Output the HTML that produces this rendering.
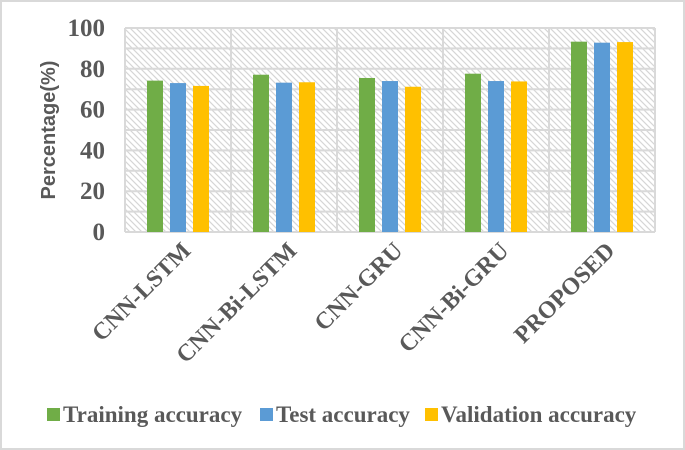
<!DOCTYPE html>
<html><head><meta charset="utf-8"><style>
html,body{margin:0;padding:0;background:#fff}
svg{display:block}
.tick{font-family:"Liberation Serif",serif;font-weight:bold;font-size:25px;fill:#595959}
.xl{font-family:"Liberation Serif",serif;font-weight:bold;font-size:24px;fill:#595959}
.lg{font-family:"Liberation Serif",serif;font-weight:bold;font-size:23px;fill:#595959}
</style></head><body>
<svg id="chart" width="685" height="450" xmlns="http://www.w3.org/2000/svg">
<defs>
<pattern id="hatch" width="6" height="6" patternUnits="userSpaceOnUse">
<rect width="6" height="6" fill="#fff"/>
<path d="M-1,-1 L7,7 M-1,5 L1,7 M5,-1 L7,1" stroke="#d6d6d6" stroke-width="1.2"/>
</pattern>
</defs>
<rect x="1" y="1" width="683" height="448" fill="#fff" stroke="#d9d9d9" stroke-width="2"/>
<g id="plot"></g>
</svg>
<script>
const categories=["CNN-LSTM","CNN-Bi-LSTM","CNN-GRU","CNN-Bi-GRU","PROPOSED"];
const training=[74.2,77.1,75.5,77.6,93.3];
const test=[73.0,73.2,74.0,74.0,92.8];
const validation=[71.6,73.4,71.2,73.8,93.1];
const yTicks=[0,20,40,60,80,100];
const seriesNames=["Training accuracy","Test accuracy","Validation accuracy"];
const colors=["#70ad47","#5b9bd5","#ffc000"];
const NS="http://www.w3.org/2000/svg";
const g=document.getElementById('plot');
const L=125,R=655,T=28,B=232;
const cw=(R-L)/categories.length;
function y(v){return B-(v/100)*(B-T);}
function xc(i){return L+cw*(i+0.5);}
function mk(t,a,p){const e=document.createElementNS(NS,t);for(const k in a)e.setAttribute(k,a[k]);(p||g).appendChild(e);return e;}
let bg=mk('rect',{x:L,y:T,width:R-L,height:B-T,fill:'url(#hatch)'});


for(let v=0;v<=100;v+=10){
  let l=mk('line',{x1:L,x2:R,y1:y(v),y2:y(v),stroke:'#d9d9d9','stroke-width':2});
  
  
}
for(let i=0;i<=categories.length;i++){
  let l=mk('line',{x1:L+cw*i,x2:L+cw*i,y1:T,y2:B,stroke:'#d9d9d9','stroke-width':2});
  
  
}
yTicks.forEach(v=>{
  let t=mk('text',{x:105,y:y(v)+8,'text-anchor':'end',class:'tick'});t.textContent=v;
  
  
});
let yt=mk('text',{x:0,y:0,transform:'translate(55,130) rotate(-90)','text-anchor':'middle','font-family':'"Liberation Sans",sans-serif','font-weight':'bold','font-size':'20',fill:'#595959'});
yt.textContent='Percentage(%)';


const series=[training,test,validation];
const bw=16,gap=7;
categories.forEach((c,i)=>{
  series.forEach((s,j)=>{
    const x=xc(i)+(j-1)*(bw+gap)-bw/2;
    let r=mk('rect',{x:x,y:y(s[i]),width:bw,height:B-y(s[i]),fill:colors[j]});
    
    
  });
  let t=mk('text',{x:0,y:0,transform:`translate(${xc(i)+14},${252}) rotate(-45)`,'text-anchor':'end',class:'xl'});
  t.textContent=c;
  
  
});
const lx=[47,260,425];
seriesNames.forEach((n,j)=>{
  let r=mk('rect',{x:lx[j],y:408,width:13,height:13,fill:colors[j]});
  
  
  let t=mk('text',{x:lx[j]+16,y:422,class:'lg'});t.textContent=n;
  
  
});
</script>
</body></html>
